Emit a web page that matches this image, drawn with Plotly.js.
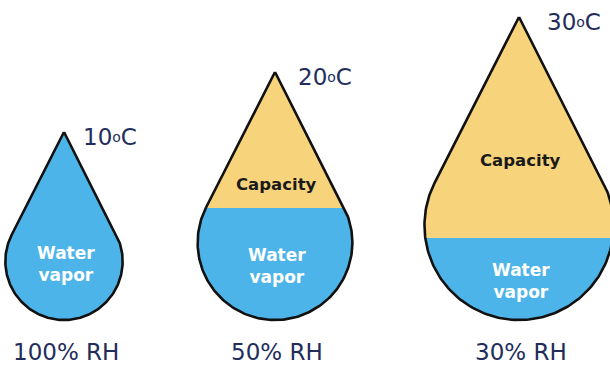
<!DOCTYPE html>
<html>
<head>
<meta charset="utf-8">
<script src="https://cdn.plot.ly/plotly-3.0.1.min.js"></script>
<style>html,body{margin:0;padding:0;background:#fff;}#chart{width:610px;height:367px;}</style>
</head>
<body>
<div id="chart"></div>
<script>
// ---- data ----
const temps = [10, 20, 30];            // °C
const rh = [100, 50, 30];              // relative humidity, %
const capacity = [188, 248, 303];      // drop (air capacity) size, chart units
const vapor = [188, 112, 82];          // water-vapor level inside each drop, chart units

// ---- layout constants ----
const centers = [64, 275, 519];
const base = 320;
const radiusRatio = 0.312;
const blue = '#4db4e9';
const yellow = '#f7d47c';
const navy = '#232d5c';
const FONT = '"DejaVu Sans", sans-serif';

function dropOutline(cx, H) {
  const r = H * radiusRatio;
  const cy = base - r;
  const d = H - r;
  const phi = Math.acos(r / d);
  const pts = [[cx, base - H]];
  const a0 = Math.PI / 2 - phi;
  const a1 = -3 * Math.PI / 2 + phi;
  const n = 160;
  for (let i = 0; i <= n; i++) {
    const a = a0 + (a1 - a0) * i / n;
    pts.push([cx + r * Math.cos(a), cy - r * Math.sin(a)]);
  }
  pts.push([cx, base - H]);
  return pts;
}

function clipBelow(pts, level) {
  const out = [];
  for (let i = 0; i < pts.length - 1; i++) {
    const p = pts[i], q = pts[i + 1];
    const pin = p[1] >= level, qin = q[1] >= level;
    if (pin) out.push(p);
    if (pin !== qin) {
      const t = (level - p[1]) / (q[1] - p[1]);
      out.push([p[0] + t * (q[0] - p[0]), level]);
    }
  }
  if (out.length) out.push(out[0]);
  return out;
}

const traces = [];
const annotations = [];
for (let i = 0; i < temps.length; i++) {
  const cx = centers[i];
  const H = capacity[i];
  const pts = dropOutline(cx, H);
  const level = base - vapor[i];
  const water = clipBelow(pts, level);
  traces.push({x: pts.map(p => p[0]), y: pts.map(p => p[1]), mode: 'lines', fill: 'toself',
    fillcolor: yellow, line: {width: 0, color: yellow}, hoverinfo: 'skip', showlegend: false});
  traces.push({x: water.map(p => p[0]), y: water.map(p => p[1]), mode: 'lines', fill: 'toself',
    fillcolor: blue, line: {width: 0, color: blue}, hoverinfo: 'skip', showlegend: false});
  traces.push({x: pts.map(p => p[0]), y: pts.map(p => p[1]), mode: 'lines',
    line: {width: 2.6, color: '#111'}, hoverinfo: 'skip', showlegend: false});

  const r = H * radiusRatio;
  // temperature label
  annotations.push({x: cx + 0.25 * r + 2, y: base - H + 5, xanchor: 'left', yanchor: 'middle', showarrow: false,
    text: temps[i] + "<span style='font-size:14px;alignment-baseline:text-after-edge'>o</span>C",
    font: {family: FONT, size: 23, color: navy}});
  // RH label
  annotations.push({x: cx + 2, y: 367, xanchor: 'center', yanchor: 'bottom', showarrow: false,
    text: rh[i] + '% RH', font: {family: FONT, size: 23, color: navy}});
  // water vapor label
  const wy = vapor[i] >= capacity[i] ? base - r + 3 : (level + base) / 2 + 2;
  annotations.push({x: cx + 2, y: wy, xanchor: 'center', yanchor: 'middle', showarrow: false,
    text: 'Water<br>vapor', align: 'center',
    font: {family: FONT, size: 17, color: '#ffffff', weight: 'bold'}});
  // capacity label
  if (vapor[i] < capacity[i]) {
    const cyLab = i === 1 ? level - 24 : level - 78;
    annotations.push({x: cx + 1, y: cyLab, xanchor: 'center', yanchor: 'middle', showarrow: false,
      text: 'Capacity', font: {family: FONT, size: 16.5, color: '#1a1a1a', weight: 'bold'}});
  }
}

const layout = {
  width: 610, height: 367,
  margin: {l: 0, r: 0, t: 0, b: 0},
  paper_bgcolor: '#fff', plot_bgcolor: '#fff',
  xaxis: {range: [0, 610], visible: false, fixedrange: true},
  yaxis: {range: [367, 0], visible: false, fixedrange: true},
  annotations: annotations,
  showlegend: false
};
Plotly.newPlot('chart', traces, layout, {displayModeBar: false, staticPlot: true});
</script>
</body>
</html>
